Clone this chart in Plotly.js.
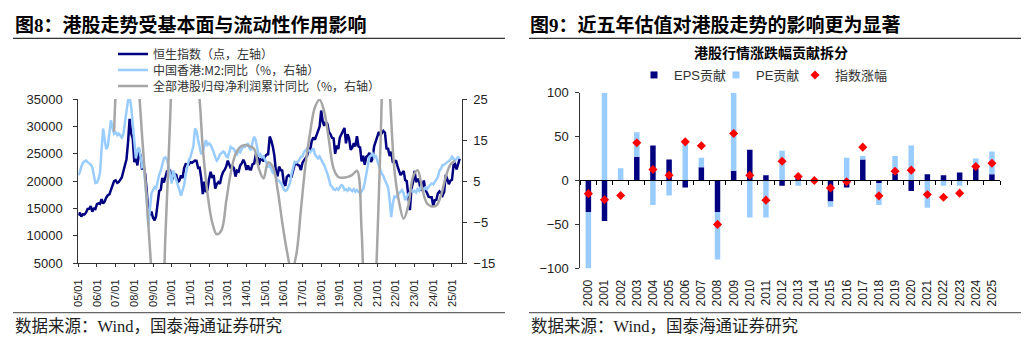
<!DOCTYPE html>
<html><head><meta charset="utf-8">
<script src="https://cdn.plot.ly/plotly-3.0.1.min.js"></script>
<style>html,body{margin:0;padding:0;background:#fff;} #chart{width:1024px;height:340px;}</style>
</head><body><div id="chart"></div>
<script>
// ---------- Left chart data (monthly from 2005-01) ----------
const startYear = 2005;
const hsi = [
13721,14195,13516,13908,13867,14201,14880,14903,15429,14386,14937,14876,
15753,15918,15805,16661,15857,16267,16971,17392,17543,18324,18960,19964,
20106,19651,19800,20318,20634,21773,23184,23984,27142,31352,28643,27812,
23456,24332,22849,25755,24533,22102,22731,21261,18016,13969,13888,14387,
13278,12812,13576,15521,18171,18378,20573,19724,20955,21752,21821,21873,
20122,20609,21239,21108,19765,20129,21029,20536,22359,23096,23008,23035,
23447,23338,23528,23721,23684,22398,22440,20535,17592,19864,17989,18434,
20390,21680,20556,21094,18630,19441,19797,19483,20840,21642,22030,22657,
23730,23020,22300,22737,22392,20803,21883,21731,22860,23206,23881,23306,
22035,22837,22151,22134,23082,23191,24757,24742,22933,23998,23987,23605,
24507,24823,24901,28133,27424,26250,24636,21671,20846,22640,21996,21914,
19683,19112,20777,21067,20815,20794,21891,22977,23297,22935,22790,22001,
23361,23741,24112,24615,25661,25765,27323,27970,27554,28246,29177,29919,
32887,30845,30093,30808,30469,28955,28583,27889,27789,24980,26507,25846,
27942,28633,29051,29699,26893,28543,27778,25725,26092,26907,26346,28190,
26313,26130,23603,24644,22961,24427,24595,25177,23459,24107,26341,27231,
28284,28980,28378,28725,29152,28828,25961,25879,24576,25377,23475,23398,
23802,22713,21997,21089,21415,21860,20157,19954,17223,14687,18597,19781,
21842,19786,20400,19895,18234,18916,20079,18382,17810,17112,17043,17047,
15485,16511,16541,17763,18080,17719,17345,17989,21134,20317,19424,20060,
20225,22941,23120,22119,23290,24072];
const m2YoY = [
6.4,7.2,8.5,9.4,9.8,10.0,9.6,9.3,9.0,8.4,6.0,4.5,
4.6,5.5,7.0,12.0,17.8,15.0,12.8,13.5,17.0,19.8,18.0,16.5,
16.8,16.2,16.6,16.0,15.6,16.5,19.0,21.5,24.8,25.5,23.0,19.0,
14.5,10.5,12.5,13.2,11.0,8.5,8.8,5.0,0.5,-6.0,-1.5,2.0,
2.8,3.5,3.2,5.0,6.5,7.5,9.0,10.5,10.8,10.2,8.5,6.0,
4.4,7.5,6.5,5.5,4.0,2.8,1.4,2.5,4.0,6.5,8.5,10.0,
10.8,12.5,13.5,17.8,17.2,15.0,13.0,11.5,12.0,13.5,15.0,13.8,
14.2,13.8,13.0,12.0,10.8,10.0,10.5,11.5,11.8,12.2,12.0,11.0,
10.8,12.0,13.3,13.0,12.8,12.0,11.5,12.3,12.0,12.8,13.5,13.3,
13.8,14.2,13.0,12.5,14.5,15.8,15.0,12.5,11.0,11.5,10.8,11.0,
10.0,9.5,8.5,8.8,8.0,7.0,6.8,6.0,5.2,5.0,4.4,4.0,
3.0,2.6,2.8,3.6,4.5,6.8,8.5,9.7,9.5,9.7,10.2,10.9,
11.0,12.1,12.5,12.9,12.5,12.0,12.5,13.0,11.5,10.9,10.5,11.0,
10.0,9.5,8.9,8.0,6.8,5.5,4.0,3.6,3.0,2.8,3.2,2.9,
3.5,4.0,3.8,2.8,3.0,2.6,3.2,2.8,2.5,3.0,2.4,2.8,
2.2,1.9,2.5,3.0,4.5,6.8,8.5,10.9,11.2,11.7,10.8,11.3,
10.0,8.5,7.8,6.8,6.2,5.2,4.5,3.5,0.3,-3.8,-0.5,1.2,
1.1,1.5,1.9,2.4,2.8,2.0,0.3,1.2,1.9,2.2,2.8,2.4,
2.6,2.2,3.0,2.6,3.6,3.2,2.8,3.4,3.0,3.6,4.0,4.4,
4.2,4.8,5.2,6.0,7.6,8.0,8.9,9.0,9.3,9.6,9.7,10.2,
10.9,10.5,10.0,10.4,10.8,10.5];
const profitDates = [
'2006-12','2007-03','2007-06','2007-09','2007-12','2008-03','2008-06','2008-09','2008-12',
'2009-03','2009-06','2009-09','2009-12','2010-03','2010-06','2010-09','2010-12',
'2011-03','2011-06','2011-09','2011-12','2012-03','2012-06','2012-09','2012-12',
'2013-03','2013-06','2013-09','2013-12','2014-03','2014-06','2014-09','2014-12',
'2015-03','2015-06','2015-09','2015-12','2016-03','2016-06','2016-09','2016-12',
'2017-03','2017-06','2017-09','2017-12','2018-03','2018-06','2018-09','2018-12',
'2019-03','2019-06','2019-09','2019-12','2020-03','2020-06','2020-09','2020-12',
'2021-03','2021-06','2021-09','2021-12','2022-03','2022-06','2022-09','2022-12',
'2023-03','2023-06','2023-09','2023-12','2024-03','2024-06','2024-09','2024-12','2025-03'];
const profitYoY = [
17,42,55,58,48,33,16,0,-17,
-35,-32,-8,20,48,55,50,40,
32,28,13,2,-5,-8,-7,0,
7,11.5,13.3,13.8,13.5,12.8,8,5.6,
9.5,8.5,3,-5,-12,-17,-13,-2,
9,17,23,24.8,22,15,8,6,
5.8,6,6.5,7.5,-7,-35,-40,-20,
12,45,27,8,0,-4.2,-1,6,
7.6,3,-0.5,-1.2,-1,1.5,6,9,10];
const xTickLabelFormat = '%y/%m';

// ---------- Right chart data ----------
const years = ['2000','2001','2002','2003','2004','2005','2006','2007','2008','2009','2010','2011','2012',
 '2013','2014','2015','2016','2017','2018','2019','2020','2021','2022','2023','2024','2025'];
const epsContrib = [-36,-46,0,27,40,24,-8,15,-36,11,35,6,-6,6,1,-24,-8,24,-3,8,-12,7,6,9,14,7];
const peContrib  = [-66,100,14,28,-28,-17,42,11,-54,89,-42,-42,34,-6,-1,-6,26,4,-25,20,40,-31,-6,-6,11,26];
const indexChange = [-15,-22,-17,43,12.5,6,44,39.5,-50,53.5,6,-22.4,22,4.6,0,-8.4,-1.5,38,-17.5,10.6,11.8,-16,-19,-14.4,16,19.7];

// ---------- build ----------
function monthDates(n){const out=[];for(let i=0;i<n;i++){const y=startYear+Math.floor(i/12),m=i%12+1;out.push(y+'-'+String(m).padStart(2,'0')+'-01');}return out;}
const mDates = monthDates(hsi.length);
const pDates = profitDates.map(d=>d+'-01');

const NAVY='#000080', LBLUE='#99CCFF', GRAY='#A6A6A6', RED='#FF0000';
const CJK='Noto Sans CJK SC';
const tickFont = {family:'Liberation Sans, Arial', size:13, color:'#222'};

const traces = [
 {x:mDates, y:hsi, type:'scatter', mode:'lines', name:'恒生指数（点，左轴）', xaxis:'x', yaxis:'y',
  line:{color:NAVY, width:2.5}, legend:'legend'},
 {x:mDates, y:m2YoY, type:'scatter', mode:'lines', name:'中国香港:M2:同比（%，右轴）', xaxis:'x', yaxis:'y2',
  line:{color:LBLUE, width:2.5}, legend:'legend2'},
 {x:pDates, y:profitYoY, type:'scatter', mode:'lines', name:'全部港股归母净利润累计同比（%，右轴）', xaxis:'x', yaxis:'y2',
  line:{color:GRAY, width:2.5, shape:'spline', smoothing:1}, legend:'legend3'},
 {x:years, y:epsContrib, type:'bar', name:'EPS贡献', xaxis:'x2', yaxis:'y3', marker:{color:NAVY}, showlegend:false},
 {x:years, y:peContrib, type:'bar', name:'PE贡献', xaxis:'x2', yaxis:'y3', marker:{color:LBLUE}, showlegend:false},
 {x:years, y:indexChange, type:'scatter', mode:'markers', name:'指数涨幅', xaxis:'x3', yaxis:'y3',
  marker:{symbol:'diamond', color:RED, size:7}, legend:'legend6'},
 {x:[null], y:[null], type:'scatter', mode:'markers', name:'EPS贡献', xaxis:'x2', yaxis:'y3',
  marker:{symbol:'square', color:NAVY, size:7}, legend:'legend4'},
 {x:[null], y:[null], type:'scatter', mode:'markers', name:'PE贡献', xaxis:'x2', yaxis:'y3',
  marker:{symbol:'square', color:LBLUE, size:7}, legend:'legend5'}
];

function leg(x,y){return {x:x, y:y, xanchor:'left', yanchor:'middle', bgcolor:'rgba(0,0,0,0)', borderwidth:0,
  font:{family:CJK, size:12, color:'#333'}, itemwidth:30, itemclick:false, itemdoubleclick:false};}
function legM(x,y){const l=leg(x,y); l.font={family:'Liberation Sans, '+CJK, size:13, color:'#333'}; return l;}

const W=1024,H=340;
const px = v=>v/W, py = v=>1-v/H;

const layout = {
 width:W, height:H, margin:{l:0,r:0,t:0,b:0}, paper_bgcolor:'#fff', plot_bgcolor:'rgba(0,0,0,0)',
 showlegend:true, barmode:'relative', bargap:0.66,
 xaxis:{type:'date', domain:[px(78.3),px(461.7)], anchor:'y', range:['2005-01-01','2025-07-10'],
   showline:true, linecolor:'#333', linewidth:1, ticks:'outside', ticklen:3, tickcolor:'#333',
   dtick:'M12', tick0:'2005-01-01', tickformat:xTickLabelFormat, tickangle:-90,
   tickfont:{family:'Liberation Sans, Arial', size:11, color:'#222'}, ticklabelstandoff:8,
   showgrid:false, zeroline:false, automargin:false},
 yaxis:{domain:[py(263),py(99)], anchor:'x', range:[5000,35000], dtick:5000, tick0:5000, tickformat:'d',
   showline:true, linecolor:'#333', ticks:'outside', ticklen:4, tickcolor:'#333', tickfont:tickFont,
   ticklabelstandoff:8, showgrid:false, zeroline:false, automargin:false},
 yaxis2:{overlaying:'y', side:'right', anchor:'x', range:[-15,25], dtick:10, tick0:-15,
   showline:true, linecolor:'#333', ticks:'outside', ticklen:4, tickcolor:'#333', tickfont:tickFont,
   ticklabelstandoff:4, showgrid:false, zeroline:false, automargin:false},
 xaxis2:{type:'category', domain:[px(580.3),px(1000)], anchor:'y3', range:[-0.5,25.5],
   showline:false, ticks:'', tickangle:-90, tickfont:{family:'Liberation Sans, Arial', size:12, color:'#222'},
   ticklabelstandoff:8, showgrid:false, zeroline:false, automargin:false},
 xaxis3:{type:'category', overlaying:'x2', anchor:'free', position:py(180), range:[-0.5,25.5],
   showline:true, linecolor:'#000', linewidth:1.3, ticks:'outside', tickson:'boundaries', ticklen:4, tickcolor:'#000',
   showticklabels:false, showgrid:false, zeroline:false, automargin:false},
 yaxis3:{domain:[py(268.3),py(92.7)], anchor:'x2', range:[-100,100], dtick:50,
   showline:true, linecolor:'#333', ticks:'outside', ticklen:4, tickcolor:'#333', tickfont:tickFont,
   ticklabelstandoff:4, showgrid:false, zeroline:false, automargin:false},
 legend: leg(px(113), py(54)),
 legend2: leg(px(113), py(70)),
 legend3: leg(px(113), py(86)),
 legend4: legM(px(634), py(75)),
 legend5: legM(px(716), py(75)),
 legend6: legM(px(795), py(75)),
 annotations:[
  {text:'<b>图8：港股走势受基本面与流动性作用影响</b>', xref:'paper', yref:'paper', x:px(13), y:py(25),
   xanchor:'left', yanchor:'middle', showarrow:false, font:{family:'Liberation Serif, '+CJK, size:19, color:'#000'}},
  {text:'<b>图9：近五年估值对港股走势的影响更为显著</b>', xref:'paper', yref:'paper', x:px(528), y:py(25),
   xanchor:'left', yanchor:'middle', showarrow:false, font:{family:'Liberation Serif, '+CJK, size:19, color:'#000'}},
  {text:'<b>港股行情涨跌幅贡献拆分</b>', xref:'paper', yref:'paper', x:px(771), y:py(52),
   xanchor:'center', yanchor:'middle', showarrow:false, font:{family:CJK, size:14, color:'#000'}},
  {text:'数据来源：Wind，国泰海通证券研究', xref:'paper', yref:'paper', x:px(13), y:py(326),
   xanchor:'left', yanchor:'middle', showarrow:false, font:{family:'Liberation Serif, '+CJK, size:16.5, color:'#222'}},
  {text:'数据来源：Wind，国泰海通证券研究', xref:'paper', yref:'paper', x:px(529), y:py(326),
   xanchor:'left', yanchor:'middle', showarrow:false, font:{family:'Liberation Serif, '+CJK, size:16.5, color:'#222'}}
 ],
 shapes:[
  {type:'line', xref:'paper', yref:'paper', x0:px(13), x1:px(505), y0:py(38.3), y1:py(38.3), line:{color:'#333', width:1.3}},
  {type:'line', xref:'paper', yref:'paper', x0:px(529), x1:px(1021), y0:py(38.3), y1:py(38.3), line:{color:'#333', width:1.3}},
  {type:'line', xref:'paper', yref:'paper', x0:px(13), x1:px(505), y0:py(312.7), y1:py(312.7), line:{color:'#666', width:1.3}},
  {type:'line', xref:'paper', yref:'paper', x0:px(529), x1:px(1021), y0:py(312.7), y1:py(312.7), line:{color:'#666', width:1.3}}
 ]
};
Plotly.newPlot('chart', traces, layout, {staticPlot:true, displayModeBar:false});
</script></body></html>
